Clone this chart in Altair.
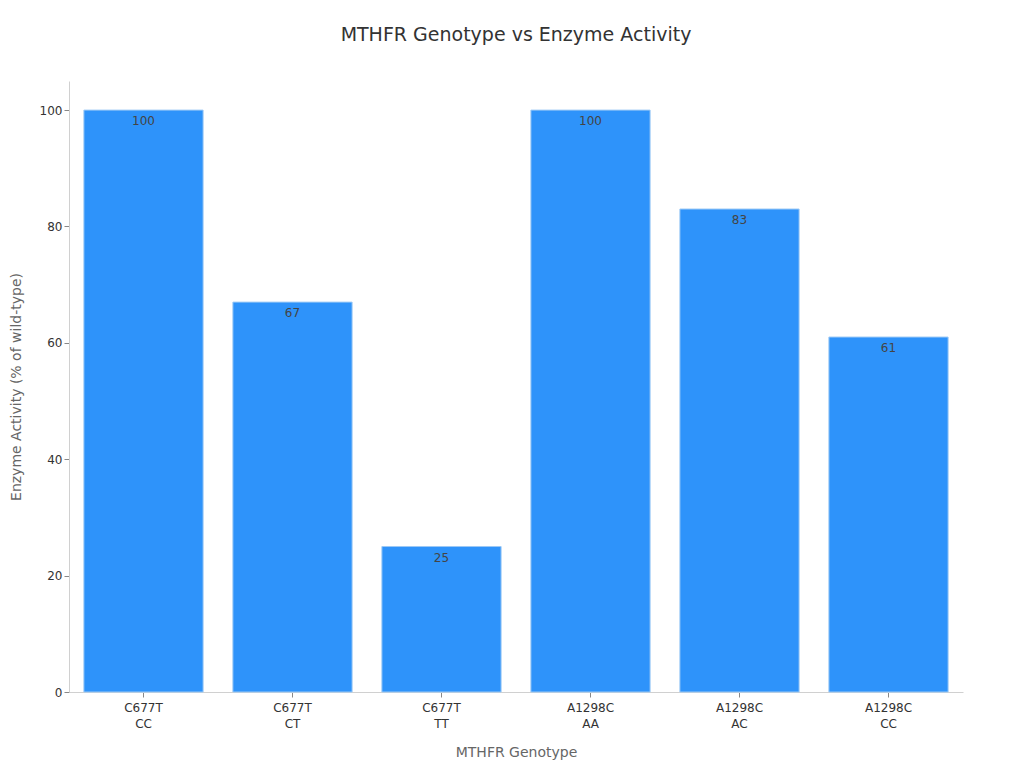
import altair as alt
import pandas as pd

genotypes = ["C677T\nCC", "C677T\nCT", "C677T\nTT", "A1298C\nAA", "A1298C\nAC", "A1298C\nCC"]
activity = [100, 67, 25, 100, 83, 61]

df = pd.DataFrame({"genotype": genotypes, "activity": activity})

x = alt.X(
    "genotype:N",
    sort=genotypes,
    title="MTHFR Genotype",
    scale=alt.Scale(paddingInner=0.2, paddingOuter=0.1),
    axis=alt.Axis(
        labelAngle=0,
        labelExpr="split(datum.value, '\\n')",
        labelFontSize=12,
        labelColor="#333333",
        labelLineHeight=16,
        labelPadding=5,
        titleFontSize=14,
        titleColor="#666666",
        titleFontWeight="normal",
        titlePadding=16,
        domainColor="#d0d0d0",
        tickColor="#888888",
        tickSize=5,
    ),
)

y = alt.Y(
    "activity:Q",
    title="Enzyme Activity (% of wild-type)",
    scale=alt.Scale(domain=[0, 105], nice=False),
    axis=alt.Axis(
        values=[0, 20, 40, 60, 80, 100],
        grid=False,
        labelFontSize=12,
        labelColor="#333333",
        titleFontSize=14,
        titleColor="#666666",
        titleFontWeight="normal",
        titlePadding=16,
        domainColor="#d0d0d0",
        tickColor="#888888",
        tickSize=5,
    ),
)

bars = alt.Chart(df).mark_bar(color="#2E93FA", stroke="#9cc9f5", strokeWidth=1).encode(x=x, y=y)

labels = alt.Chart(df).mark_text(
    baseline="top", dy=6, fontSize=12, color="#444444"
).encode(x=alt.X("genotype:N", sort=genotypes), y="activity:Q", text="activity:Q")

chart = (
    (bars + labels)
    .properties(
        width=894,
        height=611,
        title=alt.Title(
            "MTHFR Genotype vs Enzyme Activity",
            fontSize=19,
            fontWeight="normal",
            color="#333333",
            offset=36,
        ),
        autosize=alt.AutoSizeParams(type="none"),
        padding={"left": 61, "top": 73, "right": 40, "bottom": 70},
    )
    .configure(font="DejaVu Sans")
    .configure_view(stroke=None)
)

chart.save("out.html", embed_options={"renderer": "svg", "actions": False})
